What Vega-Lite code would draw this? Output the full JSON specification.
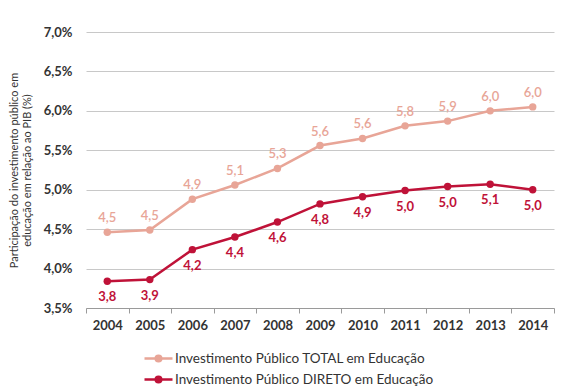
{
  "$schema": "https://vega.github.io/schema/vega-lite/v6.json",
  "autosize": {"type": "none"},
  "width": 468,
  "height": 276,
  "padding": {"left": 86, "top": 32, "right": 26, "bottom": 80},
  "background": "white",
  "config": {
    "font": "Lato",
    "view": {"stroke": null}
  },
  "data": {
    "values": [
      {"ano": "2004", "serie": "Investimento Público TOTAL em Educação", "valor": 4.46, "rotulo": "4,5"},
      {"ano": "2005", "serie": "Investimento Público TOTAL em Educação", "valor": 4.49, "rotulo": "4,5"},
      {"ano": "2006", "serie": "Investimento Público TOTAL em Educação", "valor": 4.88, "rotulo": "4,9"},
      {"ano": "2007", "serie": "Investimento Público TOTAL em Educação", "valor": 5.06, "rotulo": "5,1"},
      {"ano": "2008", "serie": "Investimento Público TOTAL em Educação", "valor": 5.27, "rotulo": "5,3"},
      {"ano": "2009", "serie": "Investimento Público TOTAL em Educação", "valor": 5.56, "rotulo": "5,6"},
      {"ano": "2010", "serie": "Investimento Público TOTAL em Educação", "valor": 5.65, "rotulo": "5,6"},
      {"ano": "2011", "serie": "Investimento Público TOTAL em Educação", "valor": 5.81, "rotulo": "5,8"},
      {"ano": "2012", "serie": "Investimento Público TOTAL em Educação", "valor": 5.87, "rotulo": "5,9"},
      {"ano": "2013", "serie": "Investimento Público TOTAL em Educação", "valor": 6.0, "rotulo": "6,0"},
      {"ano": "2014", "serie": "Investimento Público TOTAL em Educação", "valor": 6.05, "rotulo": "6,0"},
      {"ano": "2004", "serie": "Investimento Público DIRETO em Educação", "valor": 3.84, "rotulo": "3,8"},
      {"ano": "2005", "serie": "Investimento Público DIRETO em Educação", "valor": 3.86, "rotulo": "3,9"},
      {"ano": "2006", "serie": "Investimento Público DIRETO em Educação", "valor": 4.24, "rotulo": "4,2"},
      {"ano": "2007", "serie": "Investimento Público DIRETO em Educação", "valor": 4.4, "rotulo": "4,4"},
      {"ano": "2008", "serie": "Investimento Público DIRETO em Educação", "valor": 4.59, "rotulo": "4,6"},
      {"ano": "2009", "serie": "Investimento Público DIRETO em Educação", "valor": 4.82, "rotulo": "4,8"},
      {"ano": "2010", "serie": "Investimento Público DIRETO em Educação", "valor": 4.91, "rotulo": "4,9"},
      {"ano": "2011", "serie": "Investimento Público DIRETO em Educação", "valor": 4.99, "rotulo": "5,0"},
      {"ano": "2012", "serie": "Investimento Público DIRETO em Educação", "valor": 5.04, "rotulo": "5,0"},
      {"ano": "2013", "serie": "Investimento Público DIRETO em Educação", "valor": 5.07, "rotulo": "5,1"},
      {"ano": "2014", "serie": "Investimento Público DIRETO em Educação", "valor": 5.0, "rotulo": "5,0"}
    ]
  },
  "encoding": {
    "x": {
      "field": "ano", "type": "ordinal",
      "scale": {"type": "band", "paddingInner": 0, "paddingOuter": 0},
      "axis": {
        "title": null, "labelAngle": 0, "tickBand": "extent",
        "labelFont": "Lato", "labelFontSize": 13, "labelFontWeight": "bold", "labelColor": "#333333",
        "labelPadding": 6, "domainColor": "#9a9a9a", "tickColor": "#9a9a9a", "tickSize": 5,
        "grid": false
      }
    },
    "y": {
      "field": "valor", "type": "quantitative",
      "scale": {"domain": [3.5, 7.0], "nice": false, "zero": false},
      "axis": {
        "values": [3.5, 4.0, 4.5, 5.0, 5.5, 6.0, 6.5, 7.0],
        "labelExpr": "replace(format(datum.value, '.1f'), '.', ',') + '%'",
        "title": ["Participação do investimento público em", "educação em relação ao PIB (%)"],
        "titleFont": "Lato", "titleFontSize": 11, "titleFontWeight": "normal", "titleColor": "#333333",
        "titlePadding": 11, "titleLineHeight": 13,
        "labelFont": "Lato", "labelFontSize": 13, "labelFontWeight": "bold", "labelColor": "#333333",
        "labelPadding": 14,
        "domain": false, "ticks": false,
        "grid": true, "gridColor": "#c8c8c8", "gridWidth": 1
      }
    },
    "color": {
      "field": "serie", "type": "nominal",
      "scale": {
        "domain": ["Investimento Público TOTAL em Educação", "Investimento Público DIRETO em Educação"],
        "range": ["#e8a597", "#bf1238"]
      },
      "legend": {
        "title": null, "orient": "none", "legendX": 64, "legendY": 318, "direction": "vertical",
        "labelFont": "Lato", "labelFontSize": 13.5, "labelColor": "#333333", "labelFontWeight": "normal",
        "symbolType": "M-2,0H2M-0.4,0A0.4,0.4,0,1,1,0.4,0A0.4,0.4,0,1,1,-0.4,0Z",
        "symbolSize": 196, "symbolStrokeWidth": 2.5, "labelOffset": 8, "rowPadding": 4,
        "labelLimit": 400
      }
    }
  },
  "layer": [
    {"mark": {"type": "line", "strokeWidth": 2.5}},
    {"mark": {"type": "circle", "size": 55, "opacity": 1}},
    {
      "transform": [{"filter": "datum.serie === 'Investimento Público TOTAL em Educação'"}],
      "mark": {"type": "text", "dy": -14, "fontSize": 13, "fontWeight": 600, "font": "Lato"},
      "encoding": {"text": {"field": "rotulo"}}
    },
    {
      "transform": [{"filter": "datum.serie === 'Investimento Público DIRETO em Educação'"}],
      "mark": {"type": "text", "dy": 16, "fontSize": 13, "fontWeight": "bold", "font": "Lato"},
      "encoding": {"text": {"field": "rotulo"}}
    }
  ]
}
